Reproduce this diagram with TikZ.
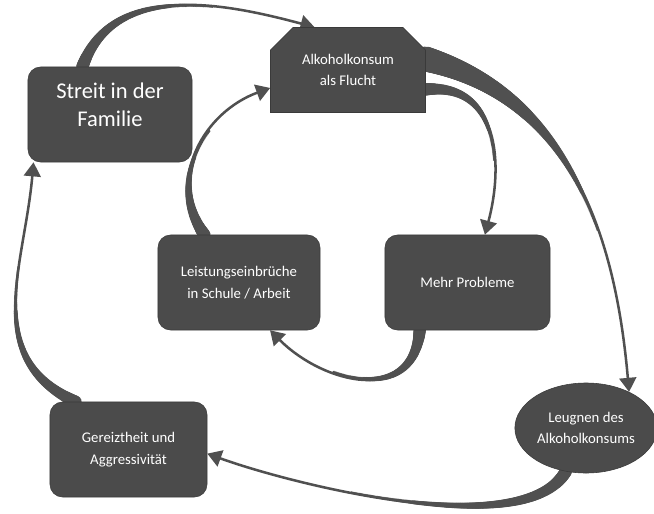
\documentclass[tikz,border=0pt]{standalone}
\usepackage{fontspec}
\setmainfont{Carlito}
\usetikzlibrary{arrows.meta, shapes.geometric, shapes.misc, decorations.markings, backgrounds}
\definecolor{boxDark}{HTML}{4B4B4B}
\definecolor{boxEdge}{HTML}{3A3A3A}
\definecolor{arrowGray}{HTML}{505050}
\tikzset{
  boxK/.style={rectangle, rounded corners=9pt, draw=boxEdge, fill=boxDark,
               text=white, align=center, inner sep=4pt,
               font=\fontsize{10.5}{15.5}\selectfont},
  boxSnip/.style={chamfered rectangle, chamfered rectangle corners={north west, north east},
                  chamfered rectangle xsep=7pt, chamfered rectangle ysep=9pt,
                  draw=boxEdge, fill=boxDark, text=white, align=center, inner sep=4pt,
                  font=\fontsize{10.5}{15.5}\selectfont},
  boxOval/.style={ellipse, draw=boxEdge, fill=boxDark, text=white, align=center,
                  inner sep=1pt, font=\fontsize{10.5}{15.5}\selectfont},
  curvy/.style={draw=arrowGray, line width=1.8pt, -{Triangle[length=10pt, width=12pt]}},
  % thick start that thins out along the curve
  taper/.style={postaction={decorate, decoration={markings,
      mark=between positions 0 and 0.6 step 0.8pt with {
        \pgfmathsetmacro\rad{0.9+(#1)*(1-\pgfkeysvalueof{/pgf/decoration/mark info/distance from start}/(0.6*\pgfdecoratedpathlength))^1.5}
        \fill[arrowGray] (0,0) circle (\rad pt);}}}},
}
\begin{document}
\begin{tikzpicture}[x=0.025cm, y=0.025cm]
  \useasboundingbox (0,0) rectangle (654,-514);

  \node[boxK, minimum width=4.1cm, minimum height=2.375cm,
        font=\fontsize{16}{20}\selectfont] (streit) at (110,-114.5) {Streit in der\\Familie\\[-6pt]};
  \node[boxSnip, minimum width=3.875cm, minimum height=2.125cm]
        (alk) at (348,-70) {Alkoholkonsum\\als Flucht};
  \node[boxK, minimum width=4.05cm, minimum height=2.375cm]
        (leist) at (239,-282.5) {Leistungseinbrüche\\in Schule / Arbeit};
  \node[boxK, minimum width=4.125cm, minimum height=2.375cm]
        (mehr) at (467.5,-282.5) {Mehr Probleme};
  \node[boxK, minimum width=3.925cm, minimum height=2.375cm]
        (gereiz) at (128.5,-449.5) {Gereiztheit und\\Aggressivität};
  \node[boxOval, minimum width=3.4cm, minimum height=2.25cm]
        (leug) at (586,-428) {Leugnen des\\Alkoholkonsums};

  \begin{scope}[on background layer]
    \draw[curvy, taper=3.5] (streit.120) to[out=70, in=165, looseness=1] (alk.128);
    \draw[curvy, taper=8] (alk.8) to[out=-15, in=95, looseness=1] (leug.40);
    \draw[curvy, taper=3.5] (alk.-14) to[out=5, in=75, looseness=1.2] (mehr.70);
    \draw[curvy, taper=3.5] (mehr.225) to[out=-95, in=-45, looseness=1.3] (leist.-57);
    \draw[curvy, taper=3.5] (leist.126) to[out=125, in=200, looseness=1.1] (alk.193);
    \draw[curvy, taper=3.5] (leug.245) to[out=-120, in=-20, looseness=0.6] (gereiz.-3);
    \draw[curvy, taper=3.5] (gereiz.138) to[out=155, in=-95, looseness=1.1] (streit.212);
  \end{scope}
\end{tikzpicture}
\end{document}
